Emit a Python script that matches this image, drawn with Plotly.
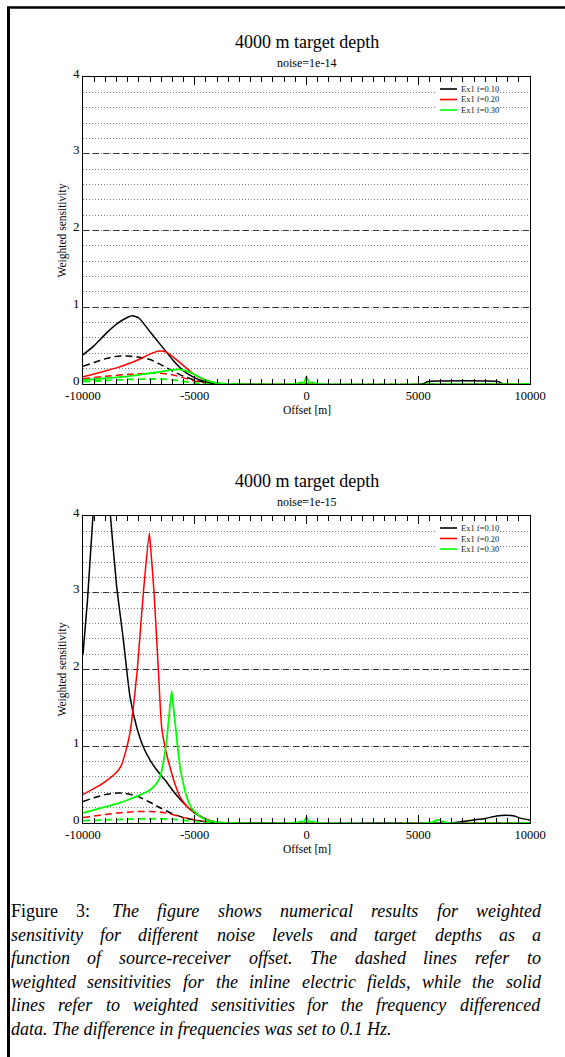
import plotly.graph_objects as go

W, H = 565, 1057
SERIF = "Liberation Serif"

# ---------------- data ----------------
x_tick_vals = [-10000, -5000, 0, 5000, 10000]
x_tick_text = ["-10000", "-5000", "0", "5000", "10000"]
y_tick_vals = [0, 1, 2, 3, 4]
y_tick_text = ["0", "1", "2", "3", "4"]
legend_labels = ["Ex1 f=0.10", "Ex1 f=0.20", "Ex1 f=0.30"]
series_colors = ["#000000", "#ff0000", "#00ff00"]
panel_titles = ["4000 m target depth", "4000 m target depth"]
panel_subtitles = ["noise=1e-14", "noise=1e-15"]
x_title = "Offset [m]"
y_title = "Weighted sensitivity"

# Panel 1 (noise=1e-14). fd = frequency differenced (solid), ex = inline Ex (dashed)
n14_fd010_x = [-10000, -9500, -9000, -8500, -8000, -7800, -7500, -7000, -6500, -6000, -5500, -5000, -4500, -4000, -3500, 5200, 5400, 8600, 8800, 10000]
n14_fd010_y = [0.38, 0.50, 0.65, 0.78, 0.87, 0.89, 0.86, 0.68, 0.50, 0.32, 0.17, 0.08, 0.03, 0.01, 0.0, 0.0, 0.03, 0.03, 0.0, 0.0]
n14_fd020_x = [-10000, -9500, -9000, -8500, -8000, -7500, -7000, -6600, -6300, -6000, -5500, -5000, -4500, -4000, -3500, -300, -200, -100, 100, 200, 300, 10000]
n14_fd020_y = [0.095, 0.13, 0.17, 0.21, 0.26, 0.32, 0.39, 0.43, 0.42, 0.36, 0.24, 0.12, 0.05, 0.01, 0.0, 0.0, 0.02, 0.0, 0.0, 0.02, 0.0, 0.0]
n14_fd030_x = [-10000, -9000, -8000, -7000, -6500, -6000, -5700, -5300, -5000, -4500, -4000, -3500, -500, -250, -120, 0, 120, 250, 500, 10000]
n14_fd030_y = [0.05, 0.075, 0.10, 0.14, 0.16, 0.185, 0.19, 0.16, 0.12, 0.05, 0.01, 0.0, 0.0, 0.02, 0.01, 0.10, 0.01, 0.02, 0.0, 0.0]
n14_ex010_x = [-10000, -9500, -9000, -8500, -8000, -7500, -7000, -6500, -6000, -5500, -5000, -4500, -4000, 10000]
n14_ex010_y = [0.23, 0.28, 0.33, 0.36, 0.365, 0.35, 0.32, 0.25, 0.17, 0.10, 0.05, 0.02, 0.0, 0.0]
n14_ex020_x = [-10000, -9000, -8000, -7000, -6500, -6000, -5500, -5000, -4500, -4000, 10000]
n14_ex020_y = [0.07, 0.10, 0.125, 0.14, 0.14, 0.12, 0.08, 0.04, 0.01, 0.0, 0.0]
n14_ex030_x = [-10000, -9000, -8000, -7000, -6500, -6000, -5500, -5000, -4500, 10000]
n14_ex030_y = [0.03, 0.045, 0.06, 0.065, 0.065, 0.055, 0.035, 0.015, 0.0, 0.0]

# Panel 2 (noise=1e-15)
n15_fd010_x = [-10000, -9800, -9600, -9400, -9200, -9000, -8800, -8500, -8200, -7900, -7600, -7300, -7000, -6700, -6300, -6000, -5500, -5000, -4500, -4000, -3500, 6500, 7000, 7500, 8000, 8500, 8900, 9300, 9600, 10000]
n15_fd010_y = [2.2, 2.9, 3.8, 4.6, 5.0, 4.9, 4.1, 3.1, 2.4, 1.65, 1.25, 0.99, 0.82, 0.69, 0.55, 0.43, 0.26, 0.13, 0.05, 0.01, 0.0, 0.0, 0.02, 0.04, 0.06, 0.09, 0.10, 0.09, 0.06, 0.04]
n15_fd020_x = [-10000, -9500, -9000, -8500, -8300, -8100, -7900, -7750, -7570, -7300, -7034, -6950, -6820, -6630, -6480, -6300, -6110, -5900, -5660, -5300, -4900, -4500, -4000, -3500, -300, -200, -100, 100, 200, 300, 10000]
n15_fd020_y = [0.37, 0.45, 0.54, 0.66, 0.74, 0.92, 1.17, 1.5, 2.0, 3.0, 3.78, 3.5, 3.0, 2.0, 1.25, 0.95, 0.73, 0.52, 0.34, 0.20, 0.12, 0.05, 0.01, 0.0, 0.0, 0.02, 0.0, 0.0, 0.02, 0.0, 0.0]
n15_fd030_x = [-10000, -9500, -9000, -8500, -8000, -7500, -7000, -6700, -6550, -6400, -6250, -6130, -6030, -5950, -5840, -5750, -5660, -5500, -5360, -5150, -4910, -4500, -4000, -3500, -500, -250, -120, 0, 120, 250, 500, 5500, 5900, 6300, 10000]
n15_fd030_y = [0.13, 0.17, 0.21, 0.25, 0.30, 0.36, 0.43, 0.52, 0.60, 0.80, 1.10, 1.45, 1.72, 1.50, 1.20, 0.95, 0.73, 0.50, 0.34, 0.20, 0.12, 0.04, 0.01, 0.0, 0.0, 0.02, 0.01, 0.08, 0.01, 0.02, 0.0, 0.0, 0.04, 0.0, 0.0]
n15_ex010_x = [-10000, -9500, -9000, -8500, -8300, -8000, -7500, -7000, -6500, -6000, -5500, -5000, -4500, -4000, 10000]
n15_ex010_y = [0.28, 0.33, 0.37, 0.39, 0.39, 0.38, 0.34, 0.27, 0.19, 0.12, 0.07, 0.04, 0.015, 0.0, 0.0]
n15_ex020_x = [-10000, -9500, -9000, -8500, -8000, -7500, -7000, -6500, -6000, -5500, -5000, -4500, -4000, 10000]
n15_ex020_y = [0.07, 0.09, 0.11, 0.13, 0.14, 0.15, 0.15, 0.14, 0.11, 0.07, 0.04, 0.015, 0.0, 0.0]
n15_ex030_x = [-10000, -9000, -8000, -7000, -6500, -6000, -5500, -5000, -4500, -4000, 10000]
n15_ex030_y = [0.03, 0.04, 0.05, 0.055, 0.055, 0.05, 0.035, 0.02, 0.005, 0.0, 0.0]

caption_lines = [
    "Figure 3:  The figure shows numerical results for weighted",
    "sensitivity for different noise levels and target depths as a",
    "function of source-receiver offset. The dashed lines refer to",
    "weighted sensitivities for the inline electric fields, while the solid",
    "lines refer to weighted sensitivities for the frequency differenced",
    "data. The difference in frequencies was set to 0.1 Hz.",
]
caption_roman_words = 2  # "Figure 3:" is upright

# ---------------- layout helpers ----------------
def px(x):
    return x / W

def py(y):
    return 1 - y / H

PLOT_L, PLOT_R = 83, 530
PANELS = [(77, 384), (516, 823)]

fig = go.Figure()

panels_data = [
    [(n14_ex010_x, n14_ex010_y, 0, "dash"), (n14_ex020_x, n14_ex020_y, 1, "dash"), (n14_ex030_x, n14_ex030_y, 2, "dash"),
     (n14_fd010_x, n14_fd010_y, 0, "solid"), (n14_fd020_x, n14_fd020_y, 1, "solid"), (n14_fd030_x, n14_fd030_y, 2, "solid")],
    [(n15_ex010_x, n15_ex010_y, 0, "dash"), (n15_ex020_x, n15_ex020_y, 1, "dash"), (n15_ex030_x, n15_ex030_y, 2, "dash"),
     (n15_fd010_x, n15_fd010_y, 0, "solid"), (n15_fd020_x, n15_fd020_y, 1, "solid"), (n15_fd030_x, n15_fd030_y, 2, "solid")],
]

for pi, series in enumerate(panels_data):
    xa = "x" if pi == 0 else "x2"
    ya = "y" if pi == 0 else "y2"
    for xs, ys, ci, dash in series:
        fig.add_trace(go.Scatter(
            x=xs, y=ys, mode="lines", xaxis=xa, yaxis=ya,
            line=dict(color=series_colors[ci], width=1.5 if ci != 2 else 1.8,
                      dash="7px,4px" if dash == "dash" else "solid",
                      shape="spline", smoothing=0.5),
            showlegend=False, hoverinfo="skip",
        ))

axis_common_x = dict(
    range=[-10000, 10000], showline=True, linecolor="black", linewidth=1, mirror="ticks",
    ticks="inside", ticklen=8, tickcolor="black", tickwidth=1, automargin=False,
    tickvals=x_tick_vals, ticktext=x_tick_text, showgrid=False, zeroline=False,
    tickfont=dict(family=SERIF, size=12.5, color="black"),
    minor=dict(ticks="inside", ticklen=5, tickcolor="black", dtick=500, tick0=0, showgrid=False),
)
axis_common_y = dict(
    range=[0, 4], showline=True, linecolor="black", linewidth=1, mirror=True,
    ticks="", tickvals=y_tick_vals, ticktext=y_tick_text, zeroline=False, automargin=False,
    ticklabelshift=-4,
    showgrid=True, gridcolor="#333333", gridwidth=1, griddash="6px,4px",
    tickfont=dict(family=SERIF, size=13, color="black"),
    minor=dict(dtick=0.2, tick0=0, showgrid=True, gridcolor="#777777", gridwidth=1, griddash="1px,2px"),
)

layout = dict(
    template="none",
    width=W, height=H, margin=dict(l=0, r=0, t=0, b=0, pad=0, autoexpand=False),
    paper_bgcolor="white", plot_bgcolor="white", showlegend=False,
    font=dict(family=SERIF, color="black"),
)
for pi, (top, bot) in enumerate(PANELS):
    sx = "" if pi == 0 else "2"
    layout["xaxis" + sx] = dict(axis_common_x, domain=[px(PLOT_L), px(PLOT_R)], anchor="y" + sx)
    layout["yaxis" + sx] = dict(axis_common_y, domain=[py(bot), py(top)], anchor="x" + sx)
fig.update_layout(**layout)

annotations = []
shapes = []
cx = px((PLOT_L + PLOT_R) / 2)
for pi, (top, bot) in enumerate(PANELS):
    annotations.append(dict(x=cx, y=py(top - 35), xref="paper", yref="paper", text=panel_titles[pi],
                            showarrow=False, font=dict(size=18, family=SERIF), xanchor="center", yanchor="middle"))
    annotations.append(dict(x=cx, y=py(top - 14), xref="paper", yref="paper", text=panel_subtitles[pi],
                            showarrow=False, font=dict(size=12, family=SERIF), xanchor="center", yanchor="middle"))
    annotations.append(dict(x=cx, y=py(bot + 26), xref="paper", yref="paper", text=x_title,
                            showarrow=False, font=dict(size=11.5, family=SERIF), xanchor="center", yanchor="middle"))
    annotations.append(dict(x=px(62), y=py((top + bot) / 2), xref="paper", yref="paper", text=y_title,
                            textangle=-90, showarrow=False, font=dict(size=11.5, family=SERIF),
                            xanchor="center", yanchor="middle"))
    # manual legend
    ly0 = top + 12
    shapes.append(dict(type="rect", xref="paper", yref="paper", x0=px(437), x1=px(495),
                       y0=py(ly0 - 6), y1=py(ly0 + 27), fillcolor="white", line=dict(width=0), layer="above"))
    for li, lab in enumerate(legend_labels):
        yy = ly0 + li * 10.5
        shapes.append(dict(type="line", xref="paper", yref="paper", x0=px(440), x1=px(457),
                           y0=py(yy), y1=py(yy), line=dict(color=series_colors[li], width=1.6), layer="above"))
        annotations.append(dict(x=px(459), y=py(yy), xref="paper", yref="paper", text=lab, showarrow=False,
                                font=dict(size=8.5, family=SERIF, color="#222"), xanchor="left", yanchor="middle"))

# page frame (left and top rules)
shapes.append(dict(type="line", xref="paper", yref="paper", x0=px(8.5), x1=px(8.5), y0=py(7), y1=0,
                   line=dict(color="black", width=3)))
shapes.append(dict(type="line", xref="paper", yref="paper", x0=px(7), x1=1, y0=py(7.5), y1=py(7.5),
                   line=dict(color="black", width=2.5)))

# caption: justified using approximate Times metrics
IT = {' ': 250, 'a': 500, 'b': 500, 'c': 444, 'd': 500, 'e': 444, 'f': 278, 'g': 500, 'h': 500, 'i': 278,
      'j': 278, 'k': 444, 'l': 278, 'm': 722, 'n': 500, 'o': 500, 'p': 500, 'q': 500, 'r': 389, 's': 389,
      't': 278, 'u': 500, 'v': 444, 'w': 667, 'x': 444, 'y': 444, 'z': 389, '.': 250, ',': 250, '-': 333,
      ':': 333, 'T': 556, 'H': 722, '0': 500, '1': 500, '3': 500}
RM = {' ': 250, 'F': 556, 'i': 278, 'g': 500, 'u': 500, 'r': 333, 'e': 444, '3': 500, ':': 278}
CAP_SIZE = 18
CAP_L, CAP_R = 11, 541
cap_y = [911, 934.5, 958, 981.5, 1005, 1028.5]

def wwidth(word, roman):
    t = RM if roman else IT
    return sum(t.get(c, 500) for c in word) * CAP_SIZE / 1000

for li, line in enumerate(caption_lines):
    words = line.split()
    if li == len(caption_lines) - 1:
        annotations.append(dict(x=px(CAP_L), y=py(cap_y[li]), xref="paper", yref="paper",
                                text="<i>" + line + "</i>", showarrow=False, borderpad=0, borderwidth=0,
                                font=dict(size=CAP_SIZE, family=SERIF), xanchor="left", yanchor="middle"))
        continue
    roman = [(li == 0 and wi < caption_roman_words) for wi in range(len(words))]
    widths = [wwidth(w, r) for w, r in zip(words, roman)]
    ngaps = len(words) - 1
    extra_first = 4.5 if li == 0 else 0
    gap = (CAP_R - CAP_L - sum(widths) - extra_first) / ngaps
    xpos = CAP_L
    for wi, (w, r, wd) in enumerate(zip(words, roman, widths)):
        annotations.append(dict(x=px(xpos), y=py(cap_y[li]), xref="paper", yref="paper",
                                text=w if r else "<i>" + w + "</i>", showarrow=False, borderpad=0, borderwidth=0,
                                font=dict(size=CAP_SIZE, family=SERIF), xanchor="left", yanchor="middle"))
        xpos += wd + gap + (extra_first if (li == 0 and wi == 1) else 0)

fig.update_layout(annotations=annotations, shapes=shapes)
fig.write_html("out.html", config={"displayModeBar": False},
               post_script="document.body.style.margin='0';document.body.style.padding='0';")
